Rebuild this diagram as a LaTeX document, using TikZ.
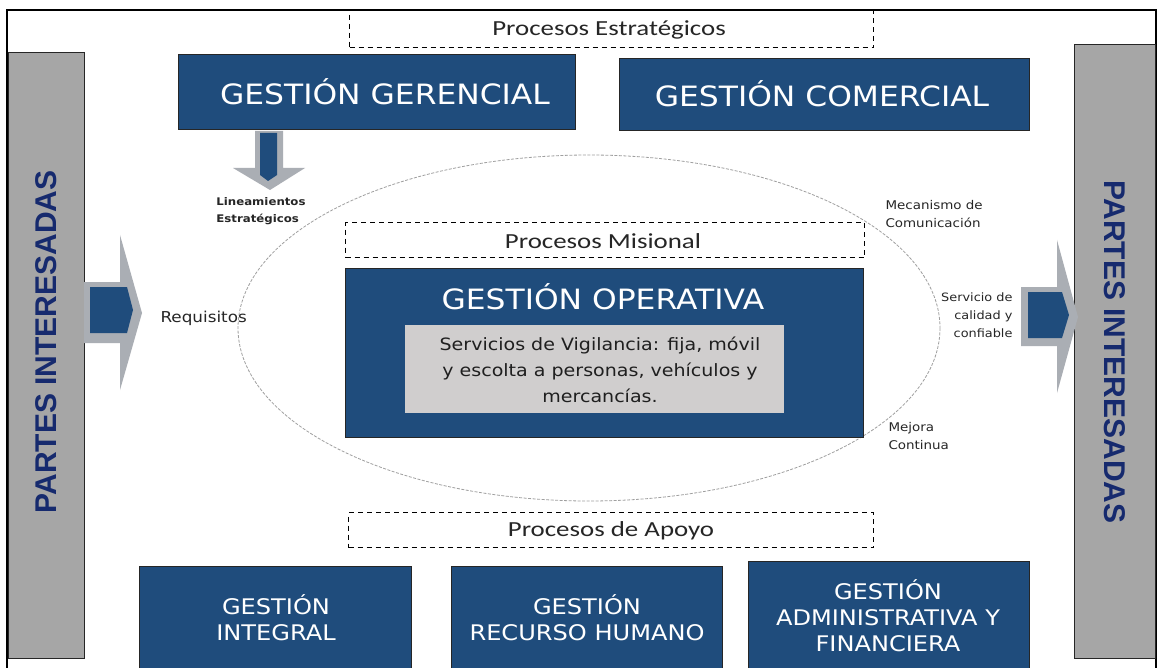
\documentclass[tikz,border=0pt]{standalone}
\usepackage{fontspec}
\setmainfont{DejaVu Sans}
\newfontfamily\verd{DejaVu Sans}[FakeStretch=1.12]
\newfontfamily\calib{Carlito}[FakeStretch=1.25]
\newfontfamily\arialf{Liberation Sans}
\definecolor{boxblue}{RGB}{31,76,124}
\definecolor{bargray}{RGB}{166,166,166}
\definecolor{innergray}{RGB}{208,206,206}
\definecolor{arrowgray}{RGB}{170,174,180}
\definecolor{navytext}{RGB}{22,42,110}
\tikzset{
  bluebox/.style={draw=black!85, line width=0.9pt, fill=boxblue, inner sep=0pt, anchor=north west, text=white},
  sidebar/.style={draw=black!85, line width=1.2pt, fill=bargray, inner sep=0pt, anchor=north west},
  dbox/.style={draw=black, line width=1.1pt, dash pattern=on 5pt off 4pt, inner sep=0pt, anchor=north west},
  proctext/.style={font=\calib\fontsize{21.5}{24}\selectfont, text=black!85},
  partes/.style={font=\arialf\bfseries\fontsize{30}{32}\selectfont, text=navytext},
  bigtitle/.style={font=\verd\fontsize{28}{32}\selectfont, text=white},
  lowtitle/.style={font=\verd\fontsize{21.5}{26}\selectfont, text=white, align=center},
  smalllab/.style={font=\verd\fontsize{12}{17.5}\selectfont, text=black!85},
  garrow/.style={fill=arrowgray},
  barrow/.style={fill=boxblue},
}
\begin{document}
\begin{tikzpicture}[x=1pt,y=-1pt]
\useasboundingbox (0,0) rectangle (1158,668);
\clip (0,0) rectangle (1158,668);
\fill[white] (0,0) rectangle (1158,668);
% outer frame
\draw[line width=1.4pt] (7,700) -- (7,10) -- (1156,10) -- (1156,700);
% side bars
\node[sidebar, minimum width=76, minimum height=606] (lbar) at (8,52) {};
\node[sidebar, minimum width=81, minimum height=614] (rbar) at (1074,44) {};
\node[partes, rotate=90] (ltext) at (46,342) {PARTES INTERESADAS};
\node[partes, rotate=-90] (rtext) at (1115,352) {PARTES INTERESADAS};
% strategic
\node[dbox, minimum width=524, minimum height=37] (estr) at (349,10) {};
\node[proctext] (estrt) at (609,30) {Procesos Estratégicos};
\node[bluebox, minimum width=397, minimum height=75] (ger) at (178,54) {};
\node[bigtitle] (gert) at (385,92) {GESTIÓN GERENCIAL};
\node[bluebox, minimum width=410, minimum height=72] (com) at (619,58) {};
\node[bigtitle] (comt) at (822,94) {GESTIÓN COMERCIAL};
% down arrow
\fill[garrow] (255,131) -- (283,131) -- (283,168) -- (305,168) -- (270,190) -- (233,168) -- (255,168) -- cycle;
\fill[barrow] (260,133) -- (277,133) -- (277,175) -- (268,181) -- (260,175) -- cycle;
\node[smalllab, font=\verd\bfseries\fontsize{10.5}{17}\selectfont, align=left] (lin) at (261,211) {Lineamientos\\Estratégicos};
% ellipse
\draw[gray!75, line width=0.8pt, dash pattern=on 3pt off 1.5pt] (589,328) ellipse [x radius=351, y radius=173];
% misional
\node[dbox, minimum width=519, minimum height=35] (mis) at (345,222) {};
\node[proctext] (mist) at (603,241) {Procesos Misional};
\node[bluebox, minimum width=518, minimum height=169] (ope) at (345,268) {};
\node[bigtitle] (opet) at (603,297) {GESTIÓN OPERATIVA};
\node[draw=none, fill=innergray, inner sep=0pt, anchor=north west, minimum width=379, minimum height=88] (serv) at (405,325) {};
\node[font=\verd\fontsize{17}{26}\selectfont, text=black!88, align=center] (servt) at (600,370) {Servicios de Vigilancia: fija, móvil\\y escolta a personas, vehículos y\\mercancías.};
% left arrow
\fill[garrow] (84,282) -- (120,282) -- (120,235) -- (142,313) -- (120,390) -- (120,343) -- (84,343) -- cycle;
\fill[barrow] (90,287) -- (127,287) -- (133,310) -- (127,333) -- (90,333) -- cycle;
\node[font=\verd\fontsize{15}{17}\selectfont, text=black!85, anchor=west] (req) at (157,318) {Requisitos};
% right arrow
\fill[garrow] (1021,287) -- (1057,287) -- (1057,240) -- (1078,317) -- (1057,393) -- (1057,346) -- (1021,346) -- cycle;
\fill[barrow] (1028,292) -- (1062,292) -- (1069,315) -- (1062,338) -- (1028,338) -- cycle;
% labels right
\node[smalllab, align=left, anchor=west] (meca) at (882,214) {Mecanismo de\\Comunicación};
\node[smalllab, align=right, anchor=east, font=\verd\fontsize{11.5}{18}\selectfont] (servl) at (1016,315) {Servicio de\\calidad y\\confiable};
\node[smalllab, align=left, anchor=west] (mej) at (885,436) {Mejora\\Continua};
% apoyo
\node[dbox, minimum width=525, minimum height=35] (apo) at (348,512) {};
\node[proctext] (apot) at (611,531) {Procesos de Apoyo};
\node[bluebox, minimum width=272, minimum height=130] (int) at (139,566) {};
\node[lowtitle] (intt) at (276,618) {GESTIÓN\\INTEGRAL};
\node[bluebox, minimum width=271, minimum height=130] (rh) at (451,566) {};
\node[lowtitle] (rht) at (587,618) {GESTIÓN\\RECURSO HUMANO};
\node[bluebox, minimum width=281, minimum height=135] (adm) at (748,561) {};
\node[lowtitle] (admt) at (888,616) {GESTIÓN\\ADMINISTRATIVA Y\\FINANCIERA};
\end{tikzpicture}
\end{document}
